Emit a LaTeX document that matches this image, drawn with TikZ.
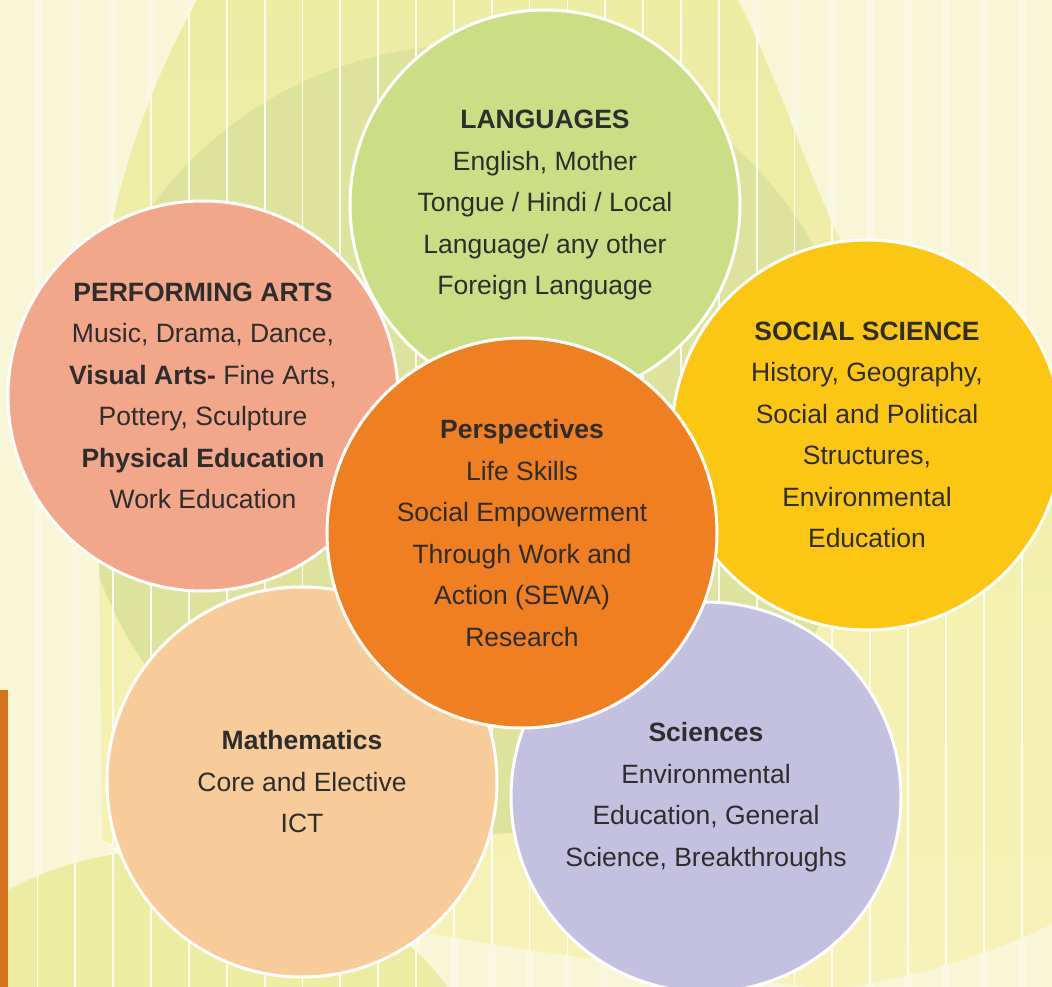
\documentclass[tikz,border=0pt]{standalone}
\usepackage{fontspec}
\setmainfont{Liberation Sans}
\usepackage{xcolor}
\definecolor{cream}{RGB}{249,246,215}
\definecolor{leafgreen}{RGB}{236,236,163}
\definecolor{deepleaf}{RGB}{221,227,156}
\definecolor{paleyellow}{RGB}{247,242,184}
\definecolor{barorange}{RGB}{214,115,30}
\definecolor{langgreen}{RGB}{204,222,133}
\definecolor{artsalmon}{RGB}{242,166,138}
\definecolor{socyellow}{RGB}{252,199,18}
\definecolor{perorange}{RGB}{240,127,34}
\definecolor{mathpeach}{RGB}{248,204,154}
\definecolor{scililac}{RGB}{196,192,224}
\definecolor{inkgray}{RGB}{45,45,45}

\begin{document}
\begin{tikzpicture}[x=1pt,y=-1pt,
  subject/.style={circle, draw=white, line width=3pt, minimum size=390pt, inner sep=0pt,
                  align=center, text=inkgray, font=\fontsize{26.5}{41.5}\selectfont},
  stripe/.style={white, line width=1.8pt, opacity=0.85}]
\useasboundingbox (0,0) rectangle (1052,987);
\clip (0,0) rectangle (1052,987);
% backdrop
\fill[cream] (0,0) rectangle (1052,987);
\foreach \s in {0,...,27} \fill[white, opacity=0.3] ({33.5+37.85*\s},0) rectangle ++(8,987);
\begin{scope}
  \clip (200,-5) .. controls (140,100) and (100,230) .. (97,340) -- (102,840)
        .. controls (300,930) and (600,960) .. (830,990)
        .. controls (930,975) and (1000,950) .. (1060,920) -- (1060,420)
        .. controls (950,330) and (860,280) .. (835,230)
        .. controls (800,150) and (770,60) .. (735,-5) -- cycle;
  \shade[top color=leafgreen, bottom color=paleyellow] (0,0) rectangle (1052,987);
  \fill[deepleaf] (470,440) circle (395);
  \foreach \s in {0,...,27} \draw[stripe] ({37.5+37.85*\s},0) -- ++(0,987);
\end{scope}
\begin{scope}
  \clip (170,1200) circle (350);
  \fill[leafgreen] (0,0) rectangle (1052,987);
  \foreach \s in {0,...,27} \draw[stripe] ({37.5+37.85*\s},0) -- ++(0,987);
\end{scope}
\fill[barorange] (0,690) rectangle (8,987);
% subject circles
\node[subject, fill=langgreen] (lang) at (545,205)
  {\textbf{LANGUAGES}\\English, Mother\\Tongue / Hindi / Local\\Language/ any other\\Foreign Language};
\node[subject, fill=artsalmon] (arts) at (203,396)
  {\textbf{PERFORMING ARTS}\\Music, Drama, Dance,\\\textbf{Visual Arts-} Fine Arts,\\Pottery, Sculpture\\\textbf{Physical Education}\\Work Education};
\node[subject, fill=socyellow] (social) at (867,435)
  {\textbf{SOCIAL SCIENCE}\\History, Geography,\\Social and Political\\Structures,\\Environmental\\Education};
\node[subject, fill=mathpeach] (maths) at (302,782)
  {\textbf{Mathematics}\\Core and Elective\\ICT};
\node[subject, fill=scililac] (sciences) at (706,797)
  {\textbf{Sciences}\\Environmental\\Education, General\\Science, Breakthroughs};
\node[subject, fill=perorange] (persp) at (522,533)
  {\textbf{Perspectives}\\Life Skills\\Social Empowerment\\Through Work and\\Action (SEWA)\\Research};
\end{tikzpicture}
\end{document}
